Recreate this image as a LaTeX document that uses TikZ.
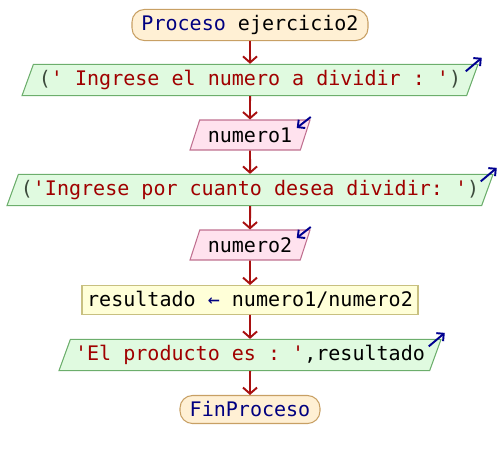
\documentclass[tikz,border=0pt]{standalone}
\usepackage{fontspec}
\setmonofont{DejaVu Sans Mono}
\usepackage{xcolor}
\usepackage{tikz}
\usetikzlibrary{shapes.geometric, arrows.meta, calc}
\definecolor{kwblue}{HTML}{000080}
\definecolor{strred}{HTML}{A00000}
\definecolor{parengrey}{HTML}{3C4A3C}
\definecolor{flowred}{HTML}{A81010}
\definecolor{markblue}{HTML}{000090}
\definecolor{termfill}{HTML}{FFF0D4}
\definecolor{termline}{HTML}{C8A064}
\definecolor{iofill}{HTML}{E0FAE0}
\definecolor{ioline}{HTML}{6CAE6C}
\definecolor{readfill}{HTML}{FFE2EE}
\definecolor{readline}{HTML}{C07090}
\definecolor{procfill}{HTML}{FFFFD8}
\definecolor{procline}{HTML}{C8C080}
\tikzstyle{terminal} = [rectangle, rounded corners=0.25cm, minimum height=0.56cm, text centered, draw=termline, fill=termfill, line width=0.6pt]
\tikzstyle{iobox} = [trapezium, trapezium left angle=70, trapezium right angle=110, trapezium stretches body, minimum height=0.6cm, inner xsep=0pt, draw=ioline, fill=iofill, line width=0.6pt]
\tikzstyle{readbox} = [iobox, draw=readline, fill=readfill]
\tikzstyle{process} = [rectangle, minimum height=0.54cm, inner xsep=1pt, text centered, draw=procline, fill=procfill, line width=0.6pt]
\tikzstyle{arrow} = [line width=1.1pt, draw=flowred, -{Straight Barb[length=3.5pt,width=8pt]}]
\tikzstyle{iomark} = [line width=1.1pt, draw=markblue, -{Straight Barb[length=3pt,width=6pt]}]

\begin{document}
\begin{tikzpicture}[font=\ttfamily\fontsize{11.4}{13.5}\selectfont]

    \useasboundingbox (0,0) rectangle (10,-9.2);

    \node (start) [terminal, minimum width=4.72cm] at (5,-0.5) {\textcolor{kwblue}{Proceso} ejercicio2};

    \node (in1) [iobox, minimum width=9.12cm] at (5,-1.6) {\textcolor{parengrey}{(}\textcolor{strred}{' Ingrese el numero a dividir : '}\textcolor{parengrey}{)}};

    \node (num1) [readbox, minimum width=2.4cm] at (5,-2.7) {numero1};

    \node (in2) [iobox, minimum width=9.72cm] at (5,-3.8) {\textcolor{parengrey}{(}\textcolor{strred}{'Ingrese por cuanto desea dividir: '}\textcolor{parengrey}{)}};

    \node (num2) [readbox, minimum width=2.4cm] at (5,-4.9) {numero2};

    \node (calc) [process, minimum width=6.72cm] at (5,-6.0) {resultado \textcolor{kwblue}{←} numero1/numero2};

    \node (out) [iobox, minimum width=7.64cm] at (5,-7.1) {\textcolor{strred}{'El producto es : '},resultado};

    \node (stop) [terminal, minimum width=2.8cm] at (5,-8.19) {\textcolor{kwblue}{FinProceso}};

    \draw[arrow] (start) -- (in1);
    \draw[arrow] (in1) -- (num1);
    \draw[arrow] (num1) -- (in2);
    \draw[arrow] (in2) -- (num2);
    \draw[arrow] (num2) -- (calc);
    \draw[arrow] (calc) -- (out);
    \draw[arrow] (out) -- (stop);

    % write / read marks
    \draw[iomark] ($(in1.top right corner)+(-0.26,-0.15)$) -- ++(0.32,0.27);
    \draw[iomark] ($(num1.top right corner)+(0,0.05)$) -- ++(-0.28,-0.22);
    \draw[iomark] ($(in2.top right corner)+(-0.26,-0.15)$) -- ++(0.32,0.27);
    \draw[iomark] ($(num2.top right corner)+(0,0.05)$) -- ++(-0.28,-0.22);
    \draw[iomark] ($(out.top right corner)+(-0.26,-0.15)$) -- ++(0.32,0.27);

\end{tikzpicture}
\end{document}
